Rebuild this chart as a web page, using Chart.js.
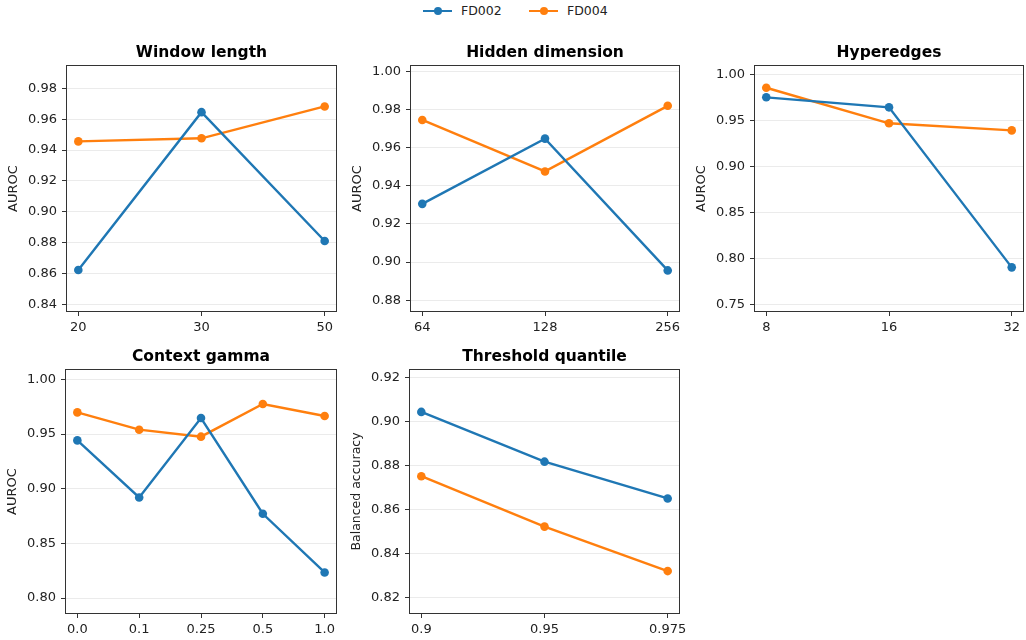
<!DOCTYPE html>
<html>
<head>
<meta charset="utf-8">
<script src="https://cdn.jsdelivr.net/npm/chart.js@4"></script>
<style>
  html, body { margin: 0; padding: 0; background: #fff; overflow: hidden; }
  body { width: 1026px; height: 640px; position: relative; font-family: "DejaVu Sans", sans-serif; }
  .panel { position: absolute; }
  #legend { position: absolute; top: 0; left: 0; width: 1026px; height: 22px; font-size: 12.5px; color: #222; }
  .item { position: absolute; top: 3px; height: 16px; line-height: 16px; }
  .swatch { position: absolute; top: 7px; width: 29px; height: 2.4px; }
  .swatch i { position: absolute; left: 10.5px; top: -2.8px; width: 8px; height: 8px; border-radius: 50%; background: inherit; }
  .item span { position: absolute; left: 38px; white-space: nowrap; }
</style>
</head>
<body>
<div id="legend">
  <div class="item" style="left:423px"><div class="swatch" style="background:#1f77b4"><i></i></div><span>FD002</span></div>
  <div class="item" style="left:529px"><div class="swatch" style="background:#ff7f0e"><i></i></div><span>FD004</span></div>
</div>

<script>
'use strict';

const seriesNames = ['FD002', 'FD004'];

const windowLabels = ['20', '30', '50'];
const windowFD002 = [0.8625, 0.9645, 0.8812];
const windowFD004 = [0.9456, 0.9476, 0.9682];
const windowTicks = [0.84, 0.86, 0.88, 0.90, 0.92, 0.94, 0.96, 0.98];

const hiddenLabels = ['64', '128', '256'];
const hiddenFD002 = [0.9305, 0.9647, 0.8956];
const hiddenFD004 = [0.9745, 0.9475, 0.9819];
const hiddenTicks = [0.88, 0.90, 0.92, 0.94, 0.96, 0.98, 1.00];

const hyperLabels = ['8', '16', '32'];
const hyperFD002 = [0.9754, 0.9645, 0.7902];
const hyperFD004 = [0.9858, 0.9471, 0.9394];
const hyperTicks = [0.75, 0.80, 0.85, 0.90, 0.95, 1.00];

const gammaLabels = ['0.0', '0.1', '0.25', '0.5', '1.0'];
const gammaFD002 = [0.9442, 0.8920, 0.9647, 0.8771, 0.8234];
const gammaFD004 = [0.9698, 0.9540, 0.9476, 0.9775, 0.9665];
const gammaTicks = [0.80, 0.85, 0.90, 0.95, 1.00];

const quantileLabels = ['0.9', '0.95', '0.975'];
const quantileFD002 = [0.9043, 0.8817, 0.8650];
const quantileFD004 = [0.8751, 0.8522, 0.8320];
const quantileTicks = [0.82, 0.84, 0.86, 0.88, 0.90, 0.92];

const colors = ['#1f77b4', '#ff7f0e'];
const FONT = '"DejaVu Sans", sans-serif';
const Y_W = 66, TITLE_H = 40, X_H = 30, PAD_R = 26;

const panels = [
  { title: 'Window length', labels: windowLabels, series: [windowFD002, windowFD004], ticks: windowTicks,
    yTitle: 'AUROC', min: 0.8353, max: 0.995, box: [66, 65, 337, 312] },
  { title: 'Hidden dimension', labels: hiddenLabels, series: [hiddenFD002, hiddenFD004], ticks: hiddenTicks,
    yTitle: 'AUROC', min: 0.8738, max: 1.0033, box: [410, 65, 680, 312] },
  { title: 'Hyperedges', labels: hyperLabels, series: [hyperFD002, hyperFD004], ticks: hyperTicks,
    yTitle: 'AUROC', min: 0.7416, max: 1.0106, box: [754, 65, 1024, 312] },
  { title: 'Context gamma', labels: gammaLabels, series: [gammaFD002, gammaFD004], ticks: gammaTicks,
    yTitle: 'AUROC', min: 0.7854, max: 1.0095, box: [65, 369, 337, 614] },
  { title: 'Threshold quantile', labels: quantileLabels, series: [quantileFD002, quantileFD004], ticks: quantileTicks,
    yTitle: 'Balanced accuracy', yTitleSize: 12.5, min: 0.8125, max: 0.9238, box: [409, 369, 680, 614] }
];

const framePlugin = {
  id: 'frame',
  afterDraw(chart) {
    const {ctx, chartArea: a} = chart;
    ctx.save();
    ctx.strokeStyle = '#333';
    ctx.lineWidth = 1;
    ctx.strokeRect(Math.round(a.left) + 0.5, Math.round(a.top) + 0.5,
      Math.round(a.right - a.left) - 1, Math.round(a.bottom - a.top) - 1);
    ctx.restore();
  }
};

panels.forEach(p => {
  const [L, T, R, B] = p.box;
  const wrap = document.createElement('div');
  wrap.className = 'panel';
  wrap.style.left = (L - Y_W) + 'px';
  wrap.style.top = (T - TITLE_H) + 'px';
  wrap.style.width = (R - L + Y_W + PAD_R) + 'px';
  wrap.style.height = (B - T + TITLE_H + X_H) + 'px';
  const canvas = document.createElement('canvas');
  wrap.appendChild(canvas);
  document.body.appendChild(wrap);

  const n = p.labels.length;
  const margin = 0.05 * (n - 1);

  new Chart(canvas.getContext('2d'), {
    type: 'line',
    data: {
      datasets: p.series.map((vals, s) => ({
        label: seriesNames[s],
        data: vals.map((v, i) => ({x: i, y: v})),
        borderColor: colors[s],
        backgroundColor: colors[s],
        borderWidth: 2.4,
        pointRadius: 4.3,
        pointBorderWidth: 0,
        pointBackgroundColor: colors[s],
        tension: 0,
        clip: false
      }))
    },
    options: {
      responsive: true,
      maintainAspectRatio: false,
      animation: false,
      events: [],
      layout: { padding: { left: 0, top: 0, right: PAD_R, bottom: 0 } },
      plugins: {
        legend: { display: false },
        tooltip: { enabled: false },
        title: {
          display: true,
          fullSize: false,
          text: p.title,
          color: '#000',
          font: { family: FONT, size: 15.5, weight: 'bold', lineHeight: 1.2 },
          padding: { top: 18.4, bottom: 3 }
        }
      },
      scales: {
        x: {
          type: 'linear',
          min: -margin,
          max: n - 1 + margin,
          afterBuildTicks: sc => { sc.ticks = p.labels.map((_, i) => ({value: i})); },
          afterFit: sc => { sc.height = X_H; sc.paddingLeft = 0; sc.paddingRight = 0; },
          ticks: {
            autoSkip: false,
            maxRotation: 0,
            padding: 4,
            color: '#222',
            font: { family: FONT, size: 13 },
            callback: v => p.labels[v]
          },
          grid: { drawOnChartArea: false, tickLength: 4, tickColor: '#333' },
          border: { display: false }
        },
        y: {
          min: p.min,
          max: p.max,
          afterBuildTicks: sc => { sc.ticks = p.ticks.map(v => ({value: v})); },
          afterFit: sc => { sc.width = Y_W; sc.paddingTop = 0; sc.paddingBottom = 0; },
          ticks: {
            padding: 5,
            color: '#222',
            font: { family: FONT, size: 13 },
            callback: v => v.toFixed(2)
          },
          grid: { color: '#ebebeb', lineWidth: 1, tickLength: 4, tickColor: '#333' },
          border: { display: false },
          title: {
            display: true,
            text: p.yTitle,
            color: '#222',
            font: { family: FONT, size: p.yTitleSize || 13 },
            padding: { top: 6, bottom: 0 }
          }
        }
      }
    },
    plugins: [framePlugin]
  });
});
</script>
</body>
</html>
